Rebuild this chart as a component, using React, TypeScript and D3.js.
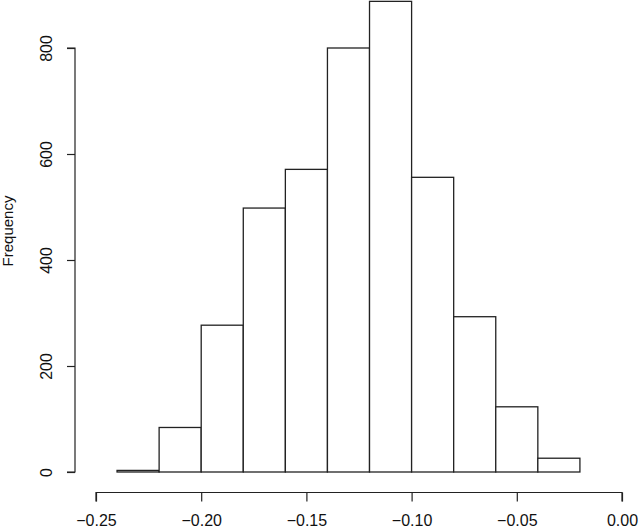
import { useEffect, useRef } from 'react';
import * as d3 from 'd3';

// histogram bins (left edge) and counts
const binStarts = [-0.24, -0.22, -0.2, -0.18, -0.16, -0.14, -0.12, -0.1, -0.08, -0.06, -0.04];
const binWidth = 0.02;
const counts = [3, 84, 277, 498, 571, 800, 888, 556, 293, 123, 26];
const xTicks = [-0.25, -0.2, -0.15, -0.1, -0.05, 0];
const yTicks = [0, 200, 400, 600, 800];

const width = 640;
const height = 528;

const App = () => {
    const svgRef = useRef<SVGSVGElement>(null);

    useEffect(() => {
        const svg = d3.select(svgRef.current);
        svg.selectAll('*').remove();

        const x = d3.scaleLinear().domain([-0.25, 0]).range([96, 622]);
        const y = d3.scaleLinear().domain([0, 800]).range([472, 48]);
        const font = 'Liberation Sans, Arial, Helvetica, sans-serif';

        const bins = binStarts.map((b, i) => ({ x0: b, x1: b + binWidth, n: counts[i] }));

        svg.append('g')
            .selectAll('rect')
            .data(bins)
            .join('rect')
            .attr('x', d => x(d.x0))
            .attr('y', d => y(d.n))
            .attr('width', d => x(d.x1) - x(d.x0))
            .attr('height', d => y(0) - y(d.n))
            .attr('fill', 'white')
            .attr('stroke', '#222')
            .attr('stroke-width', 1.3);

        // x axis (R style, offset below)
        const xAxis = svg.append('g').attr('transform', 'translate(0,492.5)');
        xAxis.call(
            d3.axisBottom(x)
                .tickValues(xTicks)
                .tickSize(9)
                .tickPadding(13)
                .tickFormat(d => d3.format('.2f')(d as number).replace('-', '\u2212'))
        );
        xAxis.select('.domain').attr('d', `M${x(-0.25)},9V0H${x(0)}V9`);

        // y axis
        const yAxis = svg.append('g').attr('transform', 'translate(75,0)');
        yAxis.call(d3.axisLeft(y).tickValues(yTicks).tickSize(8).tickFormat(d3.format('d')));
        yAxis.select('.domain').attr('d', `M-8,${y(800)}H0V${y(0)}H-8`);
        yAxis.selectAll('.tick text')
            .attr('transform', 'rotate(-90)')
            .attr('x', 0)
            .attr('y', -29)
            .attr('dy', '0.35em')
            .attr('text-anchor', 'middle');

        [xAxis, yAxis].forEach(a => {
            a.attr('font-size', null).attr('font-family', null);
            a.selectAll('path, line').attr('stroke', '#222').attr('stroke-width', 1.2);
            a.selectAll('text')
                .style('font-size', '16px')
                .style('font-family', font)
                .attr('fill', '#111');
        });

        svg.append('text')
            .attr('transform', 'translate(13,231) rotate(-90)')
            .attr('text-anchor', 'middle')
            .style('font-size', '15px')
            .style('font-family', font)
            .attr('fill', '#111')
            .text('Frequency');
    }, []);

    return (
        <svg
            ref={svgRef}
            width={width}
            height={height}
            style={{ position: 'absolute', left: 0, top: 0, background: 'white' }}
        />
    );
};

export default App;
